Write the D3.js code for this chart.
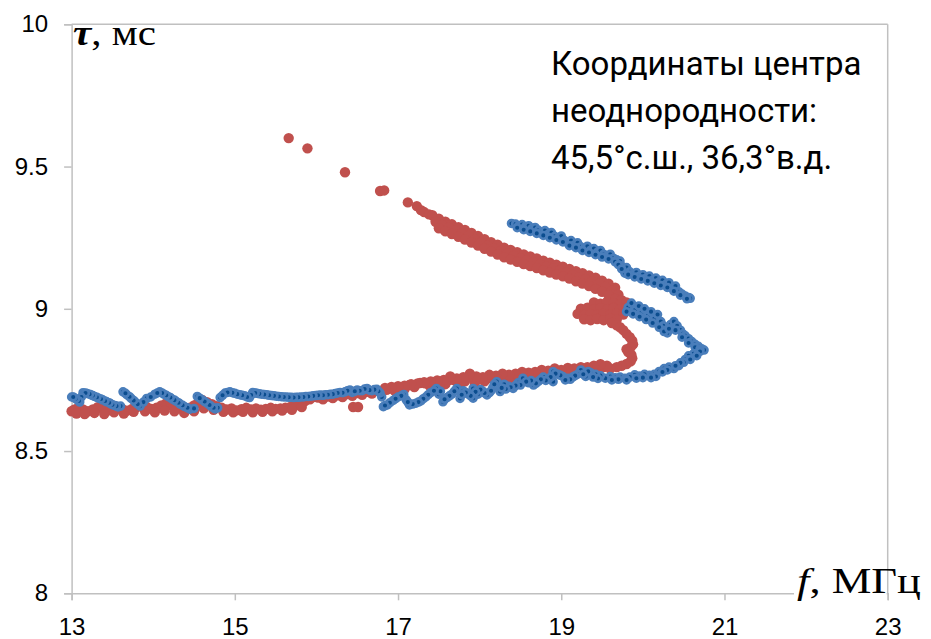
<!DOCTYPE html>
<html>
<head>
<meta charset="utf-8">
<script src="https://cdn.jsdelivr.net/npm/d3@7"></script>
<style>
  html, body { margin: 0; padding: 0; background: #fff; }
  svg { display: block; }
</style>
</head>
<body>
<svg id="chart" width="931" height="639"></svg>
<script>
// Group delay τ (ms) versus frequency f (MHz), two sounding series.
// Series 1 (red): isolated early points and the upper branch.
const redUpper = [
  [15.66,9.600],[15.89,9.564],[16.35,9.480],[16.78,9.414],[16.83,9.416],
  [17.12,9.374],[17.23,9.361],[17.28,9.347],[17.32,9.340],[17.38,9.332],
  [17.42,9.329],[17.50,9.317],[17.58,9.306],[17.66,9.297],[17.74,9.287],
  [17.82,9.277],[17.90,9.267],[17.98,9.256],[18.06,9.245],[18.14,9.234],
  [18.22,9.225],[18.30,9.215],[18.38,9.207],[18.46,9.199],[18.54,9.191],
  [18.62,9.184],[18.70,9.177],[18.78,9.169],[18.86,9.162],[18.94,9.155],
  [19.02,9.148],[19.10,9.140],[19.18,9.132],[19.26,9.125],[19.34,9.117],
  [19.42,9.109],[19.50,9.099],[19.58,9.088],[19.66,9.074],
  [17.46,9.306],[17.54,9.295],[17.62,9.285],[17.70,9.275],[17.78,9.265],
  [17.86,9.255],[17.94,9.244],[18.02,9.233],[18.10,9.222],[18.18,9.212],
  [18.26,9.203],[18.34,9.194],[18.42,9.186],[18.50,9.178],[18.58,9.171],
  [18.66,9.164],[18.74,9.156],[18.82,9.148],[18.90,9.142],[18.98,9.135],
  [19.06,9.127],[19.14,9.119],[19.22,9.111],[19.30,9.104],[19.38,9.096],
  [19.46,9.087],[19.54,9.077],[19.62,9.064],[19.70,9.050],
  [17.50,9.283],[17.58,9.272],[17.66,9.263],[17.74,9.253],[17.82,9.243],
  [17.90,9.233],[17.98,9.222],[18.06,9.211],[18.14,9.201],[18.22,9.191],
  [18.30,9.181],[18.38,9.173],[18.46,9.165],[18.54,9.157],[18.62,9.150],
  [18.70,9.143],[18.78,9.135],[18.86,9.127],[18.94,9.120],[19.02,9.114],
  [19.10,9.106],[19.18,9.097],[19.26,9.089],[19.34,9.080],[19.42,9.070],
  [19.50,9.060],[19.58,9.048],[19.66,9.035],[19.74,9.030]
];
// Series 1: turning region near the maximum frequency.
const redNose = [
  [19.40,9.022],[19.48,9.018],[19.56,9.024],[19.64,9.020],[19.72,9.016],[19.80,9.022],
  [19.24,9.000],[19.32,9.004],[19.40,8.998],[19.48,9.002],[19.56,8.998],
  [19.64,9.003],[19.72,8.999],[19.80,9.004],
  [19.20,8.982],[19.28,8.978],[19.36,8.982],[19.44,8.978],[19.52,8.983],
  [19.60,8.979],[19.68,8.983],[19.76,8.980],
  [19.28,8.963],[19.36,8.960],[19.44,8.964],[19.52,8.960],[19.60,8.965],[19.68,8.962],
  [19.62,8.950],[19.68,8.942],[19.72,8.935],[19.76,8.925],[19.80,8.912],
  [19.84,8.900],[19.87,8.888],[19.88,8.875],[19.85,8.865],[19.80,8.858],
  [19.82,8.848],[19.86,8.838],[19.87,8.826],[19.85,8.815],[19.80,8.806],
  [19.74,8.800],[19.68,8.795]
];
// Series 1: lower branch.
const redLower = [
  [19.60,8.790],[19.52,8.795],[19.45,8.785],[19.38,8.790],[19.32,8.778],
  [19.25,8.782],[19.18,8.775],[19.10,8.780],[19.03,8.770],[18.96,8.776],
  [18.90,8.778],[18.84,8.768],[18.78,8.772],[18.72,8.762],[18.66,8.768],
  [18.60,8.758],[18.54,8.765],[18.48,8.755],[18.42,8.762],[18.36,8.752],
  [18.30,8.767],[18.24,8.758],[18.18,8.748],[18.12,8.757],[18.06,8.745],
  [18.00,8.752],[17.94,8.740],[17.88,8.760],[17.82,8.745],[17.76,8.735],
  [17.70,8.748],[17.64,8.750],[17.58,8.735],[17.51,8.732],[17.45,8.742],
  [17.39,8.728],[17.33,8.738],[17.27,8.739],[17.20,8.725],[17.14,8.732],
  [17.08,8.718],[17.02,8.722],[16.96,8.712],[16.90,8.720],[16.86,8.715],
  [16.80,8.705],[16.74,8.712],[16.68,8.702],[16.62,8.708],[16.56,8.698],
  [16.50,8.704],[16.45,8.655],[16.51,8.655],[16.44,8.694],[16.38,8.700],
  [16.32,8.690],[16.26,8.696],[16.20,8.686],[16.14,8.692],[16.08,8.682],
  [16.02,8.688],[15.96,8.690],[15.92,8.682],[15.86,8.676],[15.80,8.668],
  [15.74,8.660],[15.68,8.655],[15.62,8.652],[15.56,8.650],[15.50,8.648],
  [15.44,8.652],[15.38,8.648],[15.32,8.645],[15.26,8.650],[15.20,8.646],
  [15.14,8.652],[15.08,8.647],[15.02,8.643],[14.96,8.650],[14.90,8.646],
  [14.84,8.652],[14.78,8.658],[14.72,8.665],[14.66,8.672],[14.60,8.680],
  [14.55,8.670],[14.50,8.660],[14.45,8.652],[14.40,8.645],[14.34,8.650],
  [14.28,8.656],[14.22,8.662],[14.16,8.668],[14.10,8.660],[14.04,8.652],
  [13.98,8.648],[13.92,8.655],[13.86,8.662],[13.80,8.655],[13.74,8.648],
  [13.68,8.642],[13.62,8.648],[13.56,8.655],[13.50,8.648],[13.44,8.642],
  [13.38,8.648],[13.32,8.654],[13.26,8.646],[13.20,8.640],[13.14,8.646],
  [13.08,8.652],[13.03,8.645],[13.00,8.640],
  [19.56,8.800],[19.48,8.805],[19.40,8.800],[19.32,8.795],[19.24,8.795],
  [19.16,8.790],[19.08,8.792],[19.00,8.785],[18.92,8.790],[18.84,8.782],
  [18.76,8.785],[18.68,8.778],[18.60,8.775],[18.52,8.778],[18.44,8.772],
  [18.36,8.768],[18.28,8.772],[18.20,8.765],[18.12,8.768],[18.04,8.760],
  [17.96,8.762],[17.88,8.772],[17.80,8.760],[17.72,8.755],[17.64,8.762],
  [17.56,8.750],[17.48,8.748],[17.40,8.745],[17.32,8.742],[17.24,8.738],
  [17.16,8.735],[17.08,8.730],[17.00,8.728],[16.92,8.725],[16.84,8.722],
  [13.06,8.632],[13.16,8.630],[13.28,8.634],[13.40,8.630],[13.52,8.636],
  [13.64,8.632],[13.76,8.638],[13.90,8.640],[14.02,8.636],[14.14,8.642],
  [14.26,8.640],[14.38,8.634],[14.50,8.640],[14.62,8.650],[14.74,8.645],
  [14.86,8.638],[14.98,8.636],[15.10,8.638],[15.22,8.636],[15.34,8.638],
  [15.46,8.640],[15.58,8.642],[15.70,8.645],[15.82,8.655]
];

// Series 2 (blue): upper branch.
const blueUpper = [
  [18.39,9.300],[18.44,9.298],[18.48,9.292],[18.52,9.296],[18.56,9.288],
  [18.60,9.292],[18.64,9.282],[18.68,9.286],[18.72,9.276],[18.76,9.270],
  [18.80,9.275],[18.84,9.262],[18.88,9.268],[18.92,9.255],[18.96,9.248],
  [19.00,9.256],[19.04,9.240],[19.08,9.232],[19.12,9.240],[19.16,9.224],
  [19.20,9.232],[19.24,9.218],[19.28,9.212],[19.32,9.220],[19.36,9.206],
  [19.40,9.212],[19.44,9.198],[19.48,9.205],[19.52,9.192],[19.56,9.185],
  [19.60,9.192],[19.64,9.178],[19.68,9.172],[19.72,9.168],[19.74,9.150],
  [19.76,9.138],[19.80,9.145],[19.78,9.125],[19.84,9.130],[19.88,9.122],
  [19.92,9.128],[19.96,9.115],[20.00,9.120],[20.04,9.108],[20.08,9.115],
  [20.12,9.100],[20.16,9.108],[20.20,9.095],[20.24,9.100],[20.28,9.085],
  [20.32,9.092],[20.36,9.072],[20.40,9.080],[20.44,9.060],[20.48,9.052],
  [20.52,9.045],[20.56,9.040],[20.58,9.037],
  [18.46,9.285],[18.54,9.278],[18.62,9.272],[18.70,9.265],[18.78,9.258],
  [18.86,9.250],[18.94,9.242],[19.02,9.235],[19.10,9.222],[19.18,9.215],
  [19.26,9.205],[19.34,9.198],[19.42,9.190],[19.50,9.182],[19.58,9.175],
  [19.66,9.165],[19.70,9.155],[19.74,9.140],[19.82,9.120],[19.90,9.112],
  [19.98,9.105],[20.06,9.098],[20.14,9.090],[20.22,9.082],[20.30,9.075],
  [20.38,9.062],[20.46,9.048],[20.54,9.035]
];
// Series 2: inner strand toward the maximum frequency.
const blueInner = [
  [19.82,9.005],[19.86,9.020],[19.90,8.995],[19.95,9.010],[19.98,8.985],
  [20.02,9.000],[20.06,8.975],[20.10,8.990],[20.14,8.965],[20.18,8.980],
  [20.22,8.955],[20.25,8.940],[20.28,8.925],[20.30,8.915],[20.34,8.945],
  [20.38,8.955],[20.42,8.940],[20.46,8.925],[20.49,8.912],[20.52,8.905],
  [20.56,8.895],[20.60,8.885],[20.64,8.875],[20.68,8.868],[20.72,8.860],
  [20.75,8.855],
  [19.80,8.990],[19.88,8.982],[19.96,8.972],[20.04,8.962],[20.12,8.950],
  [20.20,8.935],[20.26,8.920],[20.32,8.930],[20.40,8.925],[20.48,8.900],
  [20.56,8.880],[20.64,8.865],[20.70,8.858]
];
// Series 2: return from the maximum frequency.
const blueNose = [
  [20.70,8.850],[20.62,8.842],[20.56,8.835],[20.52,8.822],[20.50,8.812],
  [20.44,8.800],[20.38,8.790],[20.32,8.795],[20.26,8.790],[20.20,8.780],
  [20.14,8.770],[20.08,8.766],[20.02,8.770],[19.96,8.764],[19.90,8.768],
  [19.84,8.760],[19.78,8.756],[19.72,8.760],[19.66,8.758],[19.60,8.762],
  [19.54,8.756],
  [20.66,8.835],[20.58,8.822],[20.46,8.810],[20.40,8.800],[20.30,8.785],
  [20.24,8.778],[20.16,8.762],[20.10,8.758],[20.00,8.758],[19.92,8.756],
  [19.80,8.750],[19.70,8.752],[19.62,8.750]
];
// Series 2: lower branch.
const blueLower = [
  [19.48,8.765],[19.42,8.770],[19.36,8.775],[19.30,8.762],[19.24,8.785],
  [19.20,8.770],[19.14,8.760],[19.08,8.756],[19.02,8.762],[18.96,8.770],
  [18.90,8.779],[18.90,8.744],[18.84,8.752],[18.78,8.760],[18.72,8.745],
  [18.66,8.732],[18.60,8.740],[18.53,8.756],[18.47,8.740],[18.41,8.720],
  [18.35,8.728],[18.30,8.735],[18.25,8.709],[18.21,8.744],[18.16,8.722],
  [18.12,8.705],[18.09,8.697],[18.04,8.710],[17.98,8.700],[17.92,8.720],
  [17.92,8.686],[17.86,8.700],[17.80,8.712],[17.76,8.685],[17.72,8.720],
  [17.66,8.700],[17.60,8.688],[17.55,8.673],[17.50,8.700],[17.47,8.720],
  [17.40,8.705],[17.34,8.690],[17.28,8.676],[17.22,8.668],[17.14,8.662],
  [17.10,8.680],[17.07,8.699],[17.00,8.690],[16.94,8.678],[16.87,8.662],
  [16.82,8.656],[16.80,8.690],[16.78,8.704],[16.74,8.717],[16.68,8.712],
  [16.62,8.720],[16.56,8.712],[16.50,8.715],[16.44,8.706],[16.41,8.715],
  [16.35,8.708],[16.29,8.706],[16.23,8.702],[16.17,8.700],[16.11,8.698],
  [16.05,8.697],[15.99,8.695],[15.93,8.693],[15.87,8.692],[15.81,8.690],
  [15.75,8.689],[15.69,8.689],[15.63,8.690],[15.57,8.691],[15.51,8.693],
  [15.45,8.695],[15.39,8.698],[15.33,8.700],[15.27,8.703],[15.22,8.706],
  [15.18,8.688],[15.12,8.694],[15.06,8.698],[15.00,8.703],[14.94,8.708],
  [14.88,8.704],[14.82,8.688],[14.76,8.648],[14.71,8.657],[14.66,8.668],
  [14.60,8.680],[14.54,8.692],[14.45,8.647],[14.38,8.657],[14.33,8.665],
  [14.28,8.675],[14.23,8.683],[14.18,8.692],[14.13,8.700],[14.08,8.708],
  [14.02,8.700],[13.92,8.685],[13.84,8.658],[13.78,8.672],[13.73,8.685],
  [13.68,8.697],[13.63,8.708],[13.57,8.655],[13.53,8.660],[13.48,8.666],
  [13.43,8.673],[13.38,8.680],[13.33,8.686],[13.28,8.692],[13.24,8.697],
  [13.19,8.702],[13.14,8.705],[13.10,8.672],[13.07,8.680],[13.03,8.688],
  [13.00,8.690],
  [19.45,8.755],[19.39,8.760],[19.33,8.780],[19.27,8.770],[19.17,8.765],
  [19.11,8.752],[19.05,8.750],[18.99,8.766],[18.93,8.772],[18.87,8.760],
  [18.81,8.748],[18.75,8.752],[18.69,8.738],[18.63,8.748],[18.57,8.744],
  [18.50,8.732],[18.44,8.730],[18.38,8.724],[18.32,8.718],[18.27,8.722],
  [18.18,8.735],[18.14,8.712],[18.06,8.704],[18.01,8.716],[17.95,8.708],
  [17.89,8.694],[17.83,8.706],[17.78,8.698],[17.69,8.710],[17.63,8.694],
  [17.57,8.682],[17.52,8.710],[17.44,8.712],[17.37,8.698],[17.31,8.684],
  [17.25,8.672],[17.18,8.665],[17.12,8.672],[17.04,8.694],[16.97,8.684],
  [16.90,8.670],[16.84,8.660],[16.76,8.710],[16.71,8.716],[16.65,8.714],
  [16.59,8.718],[16.53,8.712],[16.47,8.710],[16.38,8.712],[16.32,8.705],
  [16.26,8.704],[16.20,8.700],[16.14,8.698],[16.08,8.696],[16.02,8.696],
  [15.96,8.694],[15.90,8.692],[15.84,8.690],[15.78,8.689],[15.72,8.688],
  [15.66,8.689],[15.60,8.690],[15.54,8.692],[15.48,8.694],[15.42,8.696],
  [15.36,8.699],[15.30,8.701],[15.25,8.704],[15.20,8.697],[15.15,8.690],
  [15.09,8.696],[15.03,8.700],[14.97,8.705],[14.91,8.706],[14.85,8.696],
  [14.79,8.652],[14.74,8.652],[14.69,8.662],[14.63,8.674],[14.57,8.686],
  [14.50,8.650],[14.42,8.652],[14.36,8.661],[14.31,8.670],[14.26,8.679],
  [14.21,8.688],[14.16,8.696],[14.11,8.704],[14.05,8.704],[13.97,8.690],
  [13.88,8.672],[13.81,8.665],[13.76,8.678],[13.71,8.691],[13.66,8.703],
  [13.60,8.658],[13.55,8.658],[13.50,8.663],[13.46,8.670],[13.41,8.676],
  [13.36,8.683],[13.31,8.689],[13.26,8.695],[13.22,8.700],[13.17,8.704],
  [13.12,8.690],[13.09,8.676],[13.05,8.684],[13.02,8.690]
];

const xTicks = [13, 15, 17, 19, 21, 23];
const yTicks = [8, 8.5, 9, 9.5, 10];
const noteLines = ["Координаты центра", "неоднородности:", "45,5°с.ш., 36,3°в.д."];

const svg = d3.select("#chart");
const gridColor = "#c0c0c0";
const sansFont = "'Liberation Sans', Arial, sans-serif";
const serifFont = "'Liberation Serif', 'Times New Roman', serif";

const x = d3.scaleLinear().domain([13, 23]).range([71.6, 887.7]);
const y = d3.scaleLinear().domain([8, 10]).range([593.3, 24.3]);

// Plot-area frame (top and right edges)
svg.append("line").attr("x1", x(13)).attr("x2", x(23)).attr("y1", y(10)).attr("y2", y(10))
  .attr("stroke", gridColor).attr("stroke-width", 1.5);
svg.append("line").attr("x1", x(23)).attr("x2", x(23)).attr("y1", y(10)).attr("y2", y(8))
  .attr("stroke", gridColor).attr("stroke-width", 1.5);

// Axes
const yAxis = d3.axisLeft(y).tickValues(yTicks).tickSize(7.5).tickPadding(16)
  .tickFormat(d => String(d));
const xAxis = d3.axisBottom(x).tickValues(xTicks).tickSize(7).tickPadding(18)
  .tickFormat(d => String(d));

function styleAxis(g) {
  g.select(".domain").attr("stroke", gridColor).attr("stroke-width", 1.5);
  g.selectAll(".tick line").attr("stroke", gridColor).attr("stroke-width", 1.5);
  g.selectAll(".tick text").attr("fill", "#000").style("font-family", sansFont).style("font-size", "24px");
}
svg.append("g").attr("transform", `translate(${x(13)},0)`).call(yAxis).call(styleAxis);
svg.append("g").attr("transform", `translate(0,${y(8)})`).call(xAxis).call(styleAxis);

// Markers: series 1 first, series 2 on top
const redData = [...redUpper, ...redNose, ...redLower];
const blueData = [...blueUpper, ...blueInner, ...blueNose, ...blueLower];

svg.append("g").selectAll("circle").data(redData).join("circle")
  .attr("cx", d => x(d[0])).attr("cy", d => y(d[1])).attr("r", 5.2)
  .attr("fill", "#c0504d");

svg.append("g").selectAll("circle").data(blueData).join("circle")
  .attr("cx", d => x(d[0])).attr("cy", d => y(d[1])).attr("r", 3.4)
  .attr("fill", "#0b4d8f").attr("stroke", "#4a7ebb").attr("stroke-width", 2.7);

// Axis titles (serif, widened to the title box width)
function axisTitle(transform, width) {
  const t = svg.append("text")
    .style("font-family", serifFont).style("font-size", "35px").attr("fill", "#000");
  return { t, finish() {
    const w = t.node().getComputedTextLength();
    t.attr("transform", `${transform} scale(${width / w},1)`);
  } };
}

const tau = axisTitle("translate(73,45)", 83);
tau.t.append("tspan").style("font-style", "italic").style("font-weight", "bold").text("τ");
tau.t.append("tspan").text(", мс");
tau.finish();

svg.append("rect").attr("x", 794).attr("y", 566).attr("width", x(23) - 794 - 1).attr("height", 32)
  .attr("fill", "#fff");
const fq = axisTitle("translate(797,593)", 124);
fq.t.append("tspan").style("font-style", "italic").text("f");
fq.t.append("tspan").text(", МГц");
fq.finish();

// Neighbouring panel's axis title, cut by the right edge
const side = axisTitle("translate(950,305) rotate(-90)", 83);
side.t.append("tspan").style("font-style", "italic").style("font-weight", "bold").text("τ");
side.t.append("tspan").text(", мс");
side.finish();

// Note with the coordinates of the irregularity centre
svg.append("g").selectAll("text").data(noteLines).join("text")
  .attr("x", 551).attr("y", (d, i) => 75 + i * 47)
  .style("font-family", "Roboto, 'Open Sans', sans-serif").style("font-size", "33px")
  .attr("fill", "#000").text(d => d);
</script>
</body>
</html>
